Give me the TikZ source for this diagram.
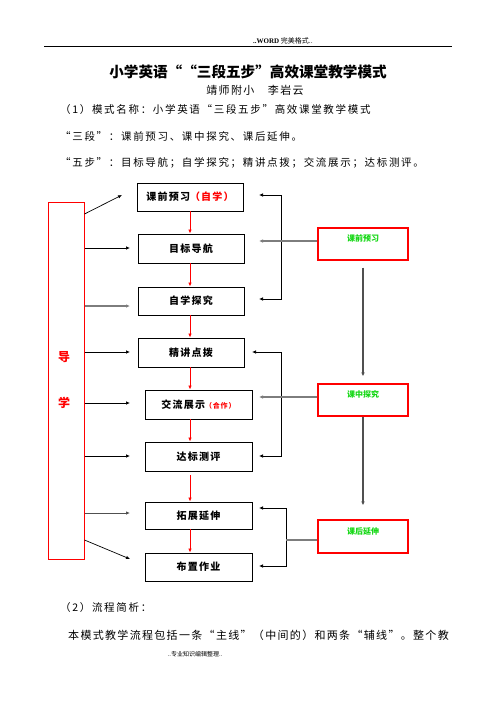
\documentclass[tikz,border=0pt]{standalone}
\usepackage{fontspec}
\setmainfont{Noto Sans CJK SC}
\newfontfamily\serifwd{Liberation Serif}
\newfontfamily\cjkls[LetterSpace=12]{Noto Sans CJK SC}
\newfontfamily\cjkbody[LetterSpace=16]{Noto Sans CJK SC}
\usetikzlibrary{arrows.meta,calc}
\definecolor{gk}{RGB}{20,215,20}
\definecolor{gline}{RGB}{125,125,125}
\definecolor{dline}{RGB}{80,80,80}
\newcommand{\fsz}[1]{\fontsize{#1}{#1}\selectfont}
\begin{document}
\begin{tikzpicture}[x=1pt,y=-1pt,
  box/.style={draw=black, line width=0.9pt, inner sep=0pt, minimum width=106pt, minimum height=28pt, font=\cjkls\bfseries\fsz{10}},
  boxb/.style={box, minimum width=107pt},
  gbox/.style={draw=red, line width=1.1pt, minimum width=90pt, minimum height=32pt, inner sep=0pt},
  gtxt/.style={text=gk, font=\bfseries\fsz{8}, inner sep=0pt},
  bodytxt/.style={anchor=west, inner sep=0pt, font=\cjkbody\fsz{10.5}},
  tip/.style={-{Latex[length=4pt,width=3.5pt]}},
  rarr/.style={draw=red, line width=0.8pt, tip},
  barr/.style={draw=black, line width=0.7pt, tip},
  garr/.style={draw=gline, line width=1.6pt, tip},
  darr/.style={draw=dline, line width=1.3pt, tip}]
\useasboundingbox (0,0) rectangle (496,702);

% header
\node[inner sep=0pt, font=\fsz{7}] (hdr) at (283,41) {{\serifwd\bfseries ..WORD} 完美格式..};
\coordinate (hl1) at (44,46); \coordinate (hl2) at (452,46);
\draw[line width=0.9pt] (hl1) -- (hl2);

% title block
\node[inner sep=0pt, font=\bfseries\fsz{14.6}] (title) at (248,72) {小学英语““三段五步”高效课堂教学模式};
\node[inner sep=0pt, font=\cjkls\fsz{11}] (author) at (255,90) {靖师附小　李岩云};
\node[bodytxt] (l1) at (60,110) {（1）模式名称：小学英语“三段五步”高效课堂教学模式};
\node[bodytxt] (l2) at (60,137) {“三段”：课前预习、课中探究、课后延伸。};
\node[bodytxt] (l3) at (60,163) {“五步”：目标导航；自学探究；精讲点拨；交流展示；达标测评。};

% main line boxes
\node[box] (b1) at (190,197) {课前预习{\color{red}（自学）}};
\node[box, minimum height=29pt] (b2) at (191,248.5) {目标导航};
\node[box] (b3) at (191,301) {自学探究};
\node[box, minimum height=29pt] (b4) at (191,352.5) {精讲点拨};
\node[boxb, minimum height=29pt] (b5) at (198.5,404.5) {交流展示{\color{red}\fsz{7}（合作）}};
\node[boxb, minimum height=29pt] (b6) at (198.5,456.5) {达标测评};
\node[boxb, minimum height=27pt] (b7) at (198.5,515.5) {拓展延伸};
\node[boxb] (b8) at (198.5,567) {布置作业};

% red arrows
\coordinate (mx) at (190,0);
\draw[rarr] (mx |- b1.south) -- (mx |- b2.north);
\draw[rarr] (mx |- b2.south) -- (mx |- b3.north);
\draw[rarr] (mx |- b3.south) -- (mx |- b4.north);
\draw[rarr] (mx |- b4.south) -- (mx |- b5.north);
\draw[rarr] (mx |- b5.south) -- (mx |- b6.north);
\draw[rarr, shorten <=4pt] (mx |- b6.south) -- (mx |- b7.north);
\draw[rarr] (mx |- b7.south) -- (mx |- b8.north);

% left red box
\node[draw=red, line width=1pt, minimum width=36pt, minimum height=357pt, inner sep=0pt] (dao) at (66,380.5) {};
\node[text=red, font=\bfseries\fsz{12}, inner sep=0pt] (d1) at (64,357) {导};
\node[text=red, font=\bfseries\fsz{12}, inner sep=0pt] (d2) at (64,403) {学};

% left arrows
\coordinate (s1) at (84,214); \coordinate (e1) at (122,195);
\coordinate (s2) at (84,248); \coordinate (e2) at (130,248);
\coordinate (s3) at (84,306); \coordinate (e3) at (130,306);
\coordinate (s4) at (84,352); \coordinate (e4) at (130,352);
\coordinate (s5) at (84,403); \coordinate (e5) at (130,403);
\coordinate (s6) at (84,456); \coordinate (e6) at (130,456);
\coordinate (s7) at (84,513); \coordinate (e7) at (130,513);
\coordinate (s8) at (84,540); \coordinate (e8) at (130,559);
\draw[barr] (dao.east |- s1) -- (e1);
\draw[barr] (dao.east |- s2) -- (e2);
\draw[garr, line width=1.3pt] (dao.east |- s3) -- (e3);
\draw[barr] (dao.east |- s4) -- (e4);
\draw[barr] (dao.east |- s5) -- (e5);
\draw[barr] (dao.east |- s6) -- (e6);
\draw[darr, line width=1pt] (dao.east |- s7) -- (e7);
\draw[barr] (dao.east |- s8) -- (e8);

% right red boxes
\node[gbox] (gk1) at (363,244) {};
\node[gbox] (gk2) at (363,400) {};
\node[gbox, minimum height=33pt] (gk3) at (363,536.5) {};
\node[gtxt] (gt1) at (363,238) {课前预习};
\node[gtxt] (gt2) at (363,394) {课中探究};
\node[gtxt] (gt3) at (363,531) {课后延伸};

\draw[darr, shorten <=7pt, shorten >=7pt] (gk1.south) -- (gk2.north);
\draw[darr, shorten >=14pt] (gk2.south) -- (gk3.north);

% bracket 1
\coordinate (r1a) at (259,195); \coordinate (r1b) at (281,195);
\coordinate (r1c) at (281,299); \coordinate (r1d) at (259,299);
\draw[barr, {Latex[length=4pt,width=3.5pt]}-{Latex[length=4pt,width=3.5pt]}] (r1a) -- (r1b) -- (r1c) -- (r1d);
\coordinate (g1) at (259,241);
\draw[garr] (gk1.west |- g1) -- (g1);

% bracket 2
\coordinate (r2a) at (252,352); \coordinate (r2b) at (281,352);
\coordinate (r2c) at (281,456); \coordinate (r2d) at (259,456);
\draw[barr, {Latex[length=4pt,width=3.5pt]}-{Latex[length=4pt,width=3.5pt]}] (r2a) -- (r2b) -- (r2c) -- (r2d);
\coordinate (g2) at (259,397);
\draw[garr] (gk2.west |- g2) -- (g2);

% bracket 3
\coordinate (r3a) at (259,508); \coordinate (r3b) at (286,508);
\coordinate (r3c) at (286,566); \coordinate (r3d) at (259,566);
\draw[barr, {Latex[length=4pt,width=3.5pt]}-{Latex[length=4pt,width=3.5pt]}] (r3a) -- (r3b) -- (r3c) -- (r3d);
\coordinate (g3) at (286,540);
\draw[draw=gline, line width=1.2pt] (gk3.west |- g3) -- (g3);

% bottom text
\node[bodytxt] (l4) at (60,608) {（2）流程简析：};
\node[bodytxt, font=\cjkls\fsz{11}] (l5) at (68,635) {本模式教学流程包括一条“主线”（中间的）和两条“辅线”。整个教};
\node[inner sep=0pt, font=\fsz{6}] (ftr) at (195,654) {..专业知识编辑整理..};
\end{tikzpicture}
\end{document}
